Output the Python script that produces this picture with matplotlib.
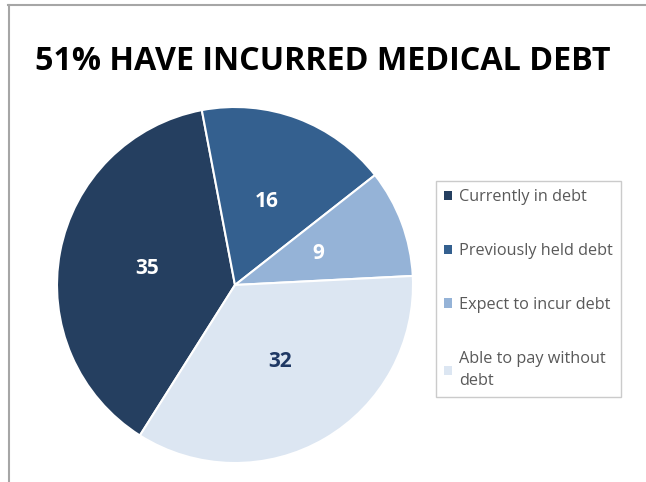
import matplotlib
matplotlib.use("Agg")
import matplotlib.pyplot as plt
from matplotlib.patches import Patch
from matplotlib.lines import Line2D

# Survey shares (clockwise from the lower-left edge)
categories = ["Currently in debt", "Previously held debt",
              "Expect to incur debt", "Able to pay without\ndebt"]
values = [35, 16, 9, 32]
colors = ["#253F60", "#34608F", "#95B3D7", "#DCE6F2"]
label_colors = ["white", "white", "white", "#1F3864"]
title = "51% HAVE INCURRED MEDICAL DEBT"

W, H = 646, 482
fig = plt.figure(figsize=(W / 100, H / 100), dpi=100)
fig.patch.set_facecolor("white")

# thin grey frame along the top and left edges
fig.add_artist(Line2D([8 / W, 1.0], [1 - 5 / H, 1 - 5 / H], color="#A6A6A6", lw=1.5,
                      transform=fig.transFigure))
fig.add_artist(Line2D([9 / W, 9 / W], [0.0, 1 - 5 / H], color="#A6A6A6", lw=1.5,
                      transform=fig.transFigure))

fig.text(323 / W, 1 - 61 / H, title, ha="center", va="center",
         fontsize=23.2, fontweight="bold", family="Open Sans", color="black")

cx, cy, r = 235, 285, 178
ax = fig.add_axes([(cx - r) / W, (H - cy - r) / H, 2 * r / W, 2 * r / H])
total = sum(values)

wedges, _, autotexts = ax.pie(
    values, colors=colors, startangle=237.7, counterclock=False,
    radius=1.0, pctdistance=0.5,
    autopct=lambda p: f"{round(p * total / 100):d}",
    wedgeprops=dict(edgecolor="white", linewidth=1.5),
    textprops=dict(fontsize=15, fontweight="bold", family="Open Sans"),
)
for t, c in zip(autotexts, label_colors):
    t.set_color(c)
ax.set_xlim(-1, 1)
ax.set_ylim(-1, 1)
ax.set_aspect("equal")
ax.axis("off")

handles = [Patch(facecolor=c, edgecolor="none") for c in colors]
leg = fig.legend(handles, categories, loc="upper left",
                 bbox_to_anchor=(436 / W, 1 - 181 / H),
                 frameon=True, fancybox=False, edgecolor="#BFBFBF",
                 prop=dict(family="Open Sans", size=11.7),
                 handlelength=0.5, handleheight=0.5, handletextpad=0.4,
                 labelspacing=2.33, borderpad=0.5, borderaxespad=0)
leg.get_frame().set_linewidth(1.0)
for t in leg.get_texts():
    t.set_color("#595959")
    t.set_linespacing(1.55)

fig.savefig("out.png", dpi=100, facecolor="white")
